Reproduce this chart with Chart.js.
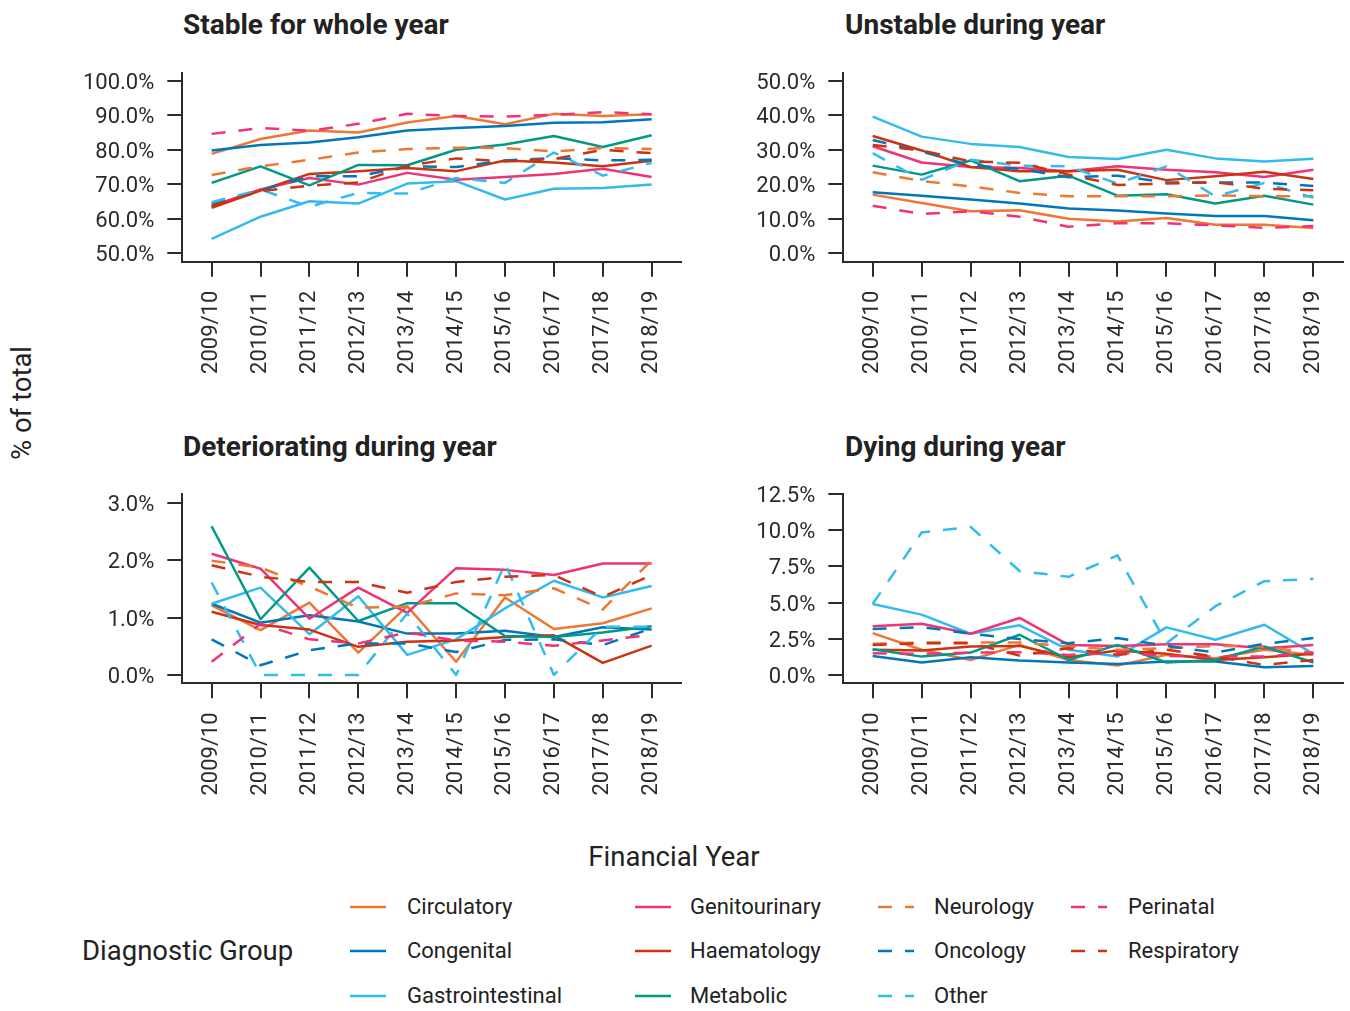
<!DOCTYPE html>
<html>
<head>
<meta charset="utf-8">
<script src="https://cdn.jsdelivr.net/npm/chart.js@4.4.1/dist/chart.umd.min.js"></script>
<style>
html,body{margin:0;padding:0;background:#fff;}
body{width:1350px;height:1011px;position:relative;overflow:hidden;font-family:Roboto,sans-serif;color:#222;}
canvas{position:absolute;}
.t{position:absolute;white-space:nowrap;line-height:1;}
.ptitle{font-weight:bold;font-size:28px;color:#222;}
.axt{font-size:27.5px;color:#222;}
.leg{font-size:22px;color:#222;}
</style>
</head>
<body>
<div class="t ptitle" style="left:183px;top:11px;">Stable for whole year</div>
<div class="t ptitle" style="left:845px;top:11px;">Unstable during year</div>
<div class="t ptitle" style="left:183px;top:433px;">Deteriorating during year</div>
<div class="t ptitle" style="left:845px;top:433px;">Dying during year</div>
<div class="t axt" style="left:22px;top:403px;transform:translate(-50%,-50%) rotate(-90deg);">% of total</div>
<div class="t axt" style="left:674px;top:857px;transform:translate(-50%,-50%);">Financial Year</div>
<div class="t axt" style="left:82px;top:951px;transform:translateY(-50%);">Diagnostic Group</div>
<script>
// ---- categories ----
const years = ['2009/10','2010/11','2011/12','2012/13','2013/14','2014/15','2015/16','2016/17','2017/18','2018/19'];
const groups = ['Circulatory','Congenital','Gastrointestinal','Genitourinary','Haematology','Metabolic','Neurology','Oncology','Other','Perinatal','Respiratory'];

// ---- Stable for whole year (%) ----
const stableCirculatory      = [78.8, 83.1, 85.6, 85.0, 87.9, 89.8, 87.4, 90.4, 89.8, 90.3];
const stableCongenital       = [79.8, 81.4, 82.1, 83.6, 85.6, 86.3, 86.9, 87.8, 88.0, 88.8];
const stableGastrointestinal = [54.2, 60.6, 65.1, 64.4, 70.2, 70.9, 65.6, 68.7, 68.9, 69.9];
const stableGenitourinary    = [63.7, 68.5, 71.8, 69.9, 73.3, 71.3, 72.1, 73.0, 74.5, 72.1];
const stableHaematology      = [63.2, 68.2, 73.0, 73.8, 74.7, 73.8, 76.9, 76.3, 75.2, 76.8];
const stableMetabolic        = [70.4, 75.2, 69.7, 75.6, 75.5, 80.0, 81.5, 84.0, 80.8, 84.2];
const stableNeurology        = [72.7, 75.2, 77.1, 79.2, 80.2, 80.6, 80.5, 79.5, 80.5, 80.2];
const stableOncology         = [64.4, 68.2, 72.3, 72.3, 75.2, 75.0, 76.9, 77.6, 76.9, 77.1];
const stableOther            = [64.8, 68.5, 63.5, 67.5, 67.3, 71.8, 70.4, 79.2, 72.5, 76.2];
const stablePerinatal        = [84.6, 86.3, 85.5, 87.5, 90.4, 89.8, 89.6, 90.1, 90.9, 90.3];
const stableRespiratory      = [63.7, 68.0, 69.6, 70.5, 75.4, 77.5, 76.6, 77.3, 80.0, 79.0];

// ---- Unstable during year (%) ----
const unstableCirculatory      = [17.0, 14.6, 12.2, 12.5, 10.0, 9.2, 10.2, 8.3, 8.3, 7.3];
const unstableCongenital       = [17.7, 16.7, 15.6, 14.4, 13.0, 12.4, 11.5, 10.8, 10.8, 9.6];
const unstableGastrointestinal = [39.6, 33.8, 31.7, 30.8, 27.9, 27.3, 30.0, 27.5, 26.6, 27.4];
const unstableGenitourinary    = [31.0, 26.3, 25.0, 24.7, 23.8, 25.2, 24.2, 23.5, 22.1, 24.2];
const unstableHaematology      = [34.0, 29.8, 25.0, 23.8, 23.8, 24.2, 21.2, 22.3, 23.6, 21.5];
const unstableMetabolic        = [25.4, 22.8, 26.9, 20.9, 22.5, 16.7, 17.1, 14.4, 16.7, 14.1];
const unstableNeurology        = [23.5, 20.9, 19.4, 17.5, 16.5, 16.5, 16.5, 16.8, 16.5, 16.5];
const unstableOncology         = [32.8, 29.5, 25.5, 24.5, 22.0, 22.5, 20.5, 20.5, 20.5, 19.5];
const unstableOther            = [29.0, 21.3, 27.1, 25.4, 25.2, 20.2, 25.2, 16.5, 20.4, 16.1];
const unstablePerinatal        = [13.8, 11.4, 12.2, 10.6, 7.7, 8.7, 8.7, 8.1, 7.4, 7.9];
const unstableRespiratory      = [31.4, 29.8, 26.6, 26.2, 22.8, 19.8, 20.2, 20.6, 18.7, 18.3];

// ---- Deteriorating during year (%) ----
const deterioratingCirculatory      = [1.21, 0.78, 1.26, 0.39, 1.20, 0.23, 1.35, 0.80, 0.90, 1.16];
const deterioratingCongenital       = [1.24, 0.91, 1.04, 0.93, 0.72, 0.72, 0.77, 0.66, 0.83, 0.79];
const deterioratingGastrointestinal = [1.24, 1.52, 0.71, 1.37, 0.35, 0.62, 1.16, 1.64, 1.35, 1.55];
const deterioratingGenitourinary    = [2.11, 1.85, 0.98, 1.52, 1.08, 1.86, 1.83, 1.74, 1.94, 1.94];
const deterioratingHaematology      = [1.10, 0.87, 0.79, 0.49, 0.58, 0.60, 0.66, 0.69, 0.21, 0.51];
const deterioratingMetabolic        = [2.59, 0.97, 1.87, 0.94, 1.25, 1.25, 0.68, 0.66, 0.74, 0.85];
const deterioratingNeurology        = [1.99, 1.87, 1.54, 1.17, 1.19, 1.42, 1.39, 1.51, 1.14, 2.00];
const deterioratingOncology         = [0.62, 0.17, 0.43, 0.55, 0.55, 0.40, 0.61, 0.62, 0.52, 0.81];
const deterioratingOther            = [1.61, 0.00, 0.00, 0.00, 1.07, 0.00, 1.94, 0.00, 0.84, 0.84];
const deterioratingPerinatal        = [0.23, 0.89, 0.62, 0.55, 0.74, 0.60, 0.58, 0.51, 0.60, 0.70];
const deterioratingRespiratory      = [1.91, 1.71, 1.62, 1.62, 1.43, 1.62, 1.71, 1.74, 1.36, 1.74];

// ---- Dying during year (%) ----
const dyingCirculatory      = [2.89, 1.74, 1.04, 2.08, 1.04, 0.65, 1.39, 1.16, 1.74, 1.39];
const dyingCongenital       = [1.32, 0.86, 1.23, 1.00, 0.86, 0.76, 0.93, 0.93, 0.53, 0.63];
const dyingGastrointestinal = [4.91, 4.17, 2.85, 3.43, 1.74, 1.27, 3.29, 2.43, 3.47, 1.46];
const dyingGenitourinary    = [3.36, 3.54, 2.85, 3.94, 2.08, 2.01, 2.13, 2.13, 1.85, 2.08];
const dyingHaematology      = [1.74, 1.69, 1.97, 2.01, 1.23, 1.69, 1.46, 1.04, 1.23, 1.46];
const dyingMetabolic        = [1.78, 1.27, 1.55, 2.78, 1.04, 2.08, 0.86, 1.04, 1.97, 0.86];
const dyingNeurology        = [2.15, 2.25, 2.25, 2.25, 1.97, 1.74, 1.85, 2.01, 1.97, 1.50];
const dyingOncology         = [3.17, 3.31, 2.85, 2.48, 2.20, 2.55, 2.01, 1.55, 2.15, 2.55];
const dyingOther            = [4.91, 9.84, 10.23, 7.18, 6.78, 8.26, 2.20, 4.75, 6.48, 6.64];
const dyingPerinatal        = [1.50, 1.46, 1.55, 1.57, 1.39, 1.55, 1.32, 1.27, 1.27, 1.55];
const dyingRespiratory      = [2.08, 2.20, 2.20, 1.34, 1.85, 1.39, 1.74, 1.27, 0.69, 1.04];

// ---- tick labels (y axes) ----
const stableTicks = [50, 60, 70, 80, 90, 100];
const unstableTicks = [0, 10, 20, 30, 40, 50];
const deterioratingTicks = [0, 1, 2, 3];
const dyingTicks = [0, 2.5, 5, 7.5, 10, 12.5];

// ---- styles ----
const groupColors = ['#EE7733','#0077BB','#33BBEE','#EE3377','#CC3311','#009988','#EE7733','#0077BB','#33BBEE','#EE3377','#CC3311'];
const groupDashed = [false,false,false,false,false,false,true,true,true,true,true];
const axisColor = '#2b2b2b';
const DASH = [14, 13];

const panels = [
  {series:[stableCirculatory,stableCongenital,stableGastrointestinal,stableGenitourinary,stableHaematology,stableMetabolic,stableNeurology,stableOncology,stableOther,stablePerinatal,stableRespiratory],
   ticks:stableTicks, yMin:47.57, yMax:102.32, cx:0, cy:60, cw:690, ch:340, L:182.3, T:72.7, R:681, B:261.7},
  {series:[unstableCirculatory,unstableCongenital,unstableGastrointestinal,unstableGenitourinary,unstableHaematology,unstableMetabolic,unstableNeurology,unstableOncology,unstableOther,unstablePerinatal,unstableRespiratory],
   ticks:unstableTicks, yMin:-2.43, yMax:52.32, cx:690, cy:60, cw:660, ch:340, L:843.3, T:72.7, R:1342.7, B:261.7},
  {series:[deterioratingCirculatory,deterioratingCongenital,deterioratingGastrointestinal,deterioratingGenitourinary,deterioratingHaematology,deterioratingMetabolic,deterioratingNeurology,deterioratingOncology,deterioratingOther,deterioratingPerinatal,deterioratingRespiratory],
   ticks:deterioratingTicks, yMin:-0.145, yMax:3.151, cx:0, cy:480, cw:690, ch:340, L:182.3, T:494, R:681, B:683.3},
  {series:[dyingCirculatory,dyingCongenital,dyingGastrointestinal,dyingGenitourinary,dyingHaematology,dyingMetabolic,dyingNeurology,dyingOncology,dyingOther,dyingPerinatal,dyingRespiratory],
   ticks:dyingTicks, yMin:-0.573, yMax:12.5, cx:690, cy:480, cw:660, ch:340, L:843.3, T:494, R:1342.7, B:683.3}
];

const tickFont = {family:'Roboto', size:22};

function makePanel(p) {
  const cv = document.createElement('canvas');
  cv.width = p.cw; cv.height = p.ch;
  cv.style.left = p.cx + 'px'; cv.style.top = p.cy + 'px';
  cv.style.width = p.cw + 'px'; cv.style.height = p.ch + 'px';
  document.body.appendChild(cv);
  const datasets = groups.map((g, i) => ({
    label: g,
    data: p.series[i].map((v, j) => ({x: j, y: v})),
    borderColor: groupColors[i],
    backgroundColor: groupColors[i],
    borderWidth: 2.5,
    borderDash: groupDashed[i] ? DASH : [],
    borderJoinStyle: 'round',
    pointRadius: 0,
    tension: 0,
    fill: false,
    order: groups.length - 1 - i
  }));
  const gridOpts = {display:true, drawOnChartArea:false, drawTicks:true, tickLength:15, color:axisColor, tickColor:axisColor, lineWidth:2, tickWidth:2};
  const borderOpts = {display:true, color:axisColor, width:2};
  new Chart(cv, {
    type: 'line',
    data: {datasets},
    options: {
      responsive:false, animation:false, devicePixelRatio:1, events:[],
      layout: {padding: {left:0, top:p.T - p.cy, right:p.cx + p.cw - p.R, bottom:0}},
      plugins: {legend:{display:false}, tooltip:{enabled:false}, title:{display:false}},
      scales: {
        x: {
          type:'linear', min:-0.6, max:9.6,
          afterBuildTicks: s => { s.ticks = years.map((y, j) => ({value:j})); },
          afterFit: s => { s.height = p.ch - (p.B - p.cy); s.paddingLeft = 0; s.paddingRight = 0; },
          ticks: {autoSkip:false, minRotation:90, maxRotation:90, padding:14, color:axisColor, font:tickFont,
                  callback: v => years[v]},
          grid: gridOpts, border: borderOpts
        },
        y: {
          type:'linear', min:p.yMin, max:p.yMax,
          afterBuildTicks: s => { s.ticks = p.ticks.map(v => ({value:v})); },
          afterFit: s => { s.width = p.L - p.cx; s.paddingTop = 0; s.paddingBottom = 0; },
          ticks: {padding:13, labelOffset:2.5, color:axisColor, font:tickFont, callback: v => Number(v).toFixed(1) + '%'},
          grid: gridOpts, border: borderOpts
        }
      }
    }
  });
}
panels.forEach(makePanel);

// ---- legend (HTML) ----
const legSampleX = [350, 635, 878, 1071];
const legTextX = [407, 690, 934, 1128];
const legRowY = [907, 951, 996];
groups.forEach((g, i) => {
  const col = Math.floor(i / 3), row = i % 3;
  const svgNS = 'http://www.w3.org/2000/svg';
  const svg = document.createElementNS(svgNS, 'svg');
  svg.setAttribute('width', '36'); svg.setAttribute('height', '10');
  svg.style.position = 'absolute';
  svg.style.left = legSampleX[col] + 'px';
  svg.style.top = (legRowY[row] - 5) + 'px';
  const ln = document.createElementNS(svgNS, 'line');
  ln.setAttribute('x1', '0'); ln.setAttribute('x2', '36');
  ln.setAttribute('y1', '5'); ln.setAttribute('y2', '5');
  ln.setAttribute('stroke', groupColors[i]);
  ln.setAttribute('stroke-width', '2.5');
  if (groupDashed[i]) ln.setAttribute('stroke-dasharray', DASH.join(' '));
  svg.appendChild(ln);
  document.body.appendChild(svg);
  const d = document.createElement('div');
  d.className = 't leg';
  d.textContent = g;
  d.style.left = legTextX[col] + 'px';
  d.style.top = legRowY[row] + 'px';
  d.style.transform = 'translateY(-50%)';
  document.body.appendChild(d);
});
</script>
</body>
</html>
